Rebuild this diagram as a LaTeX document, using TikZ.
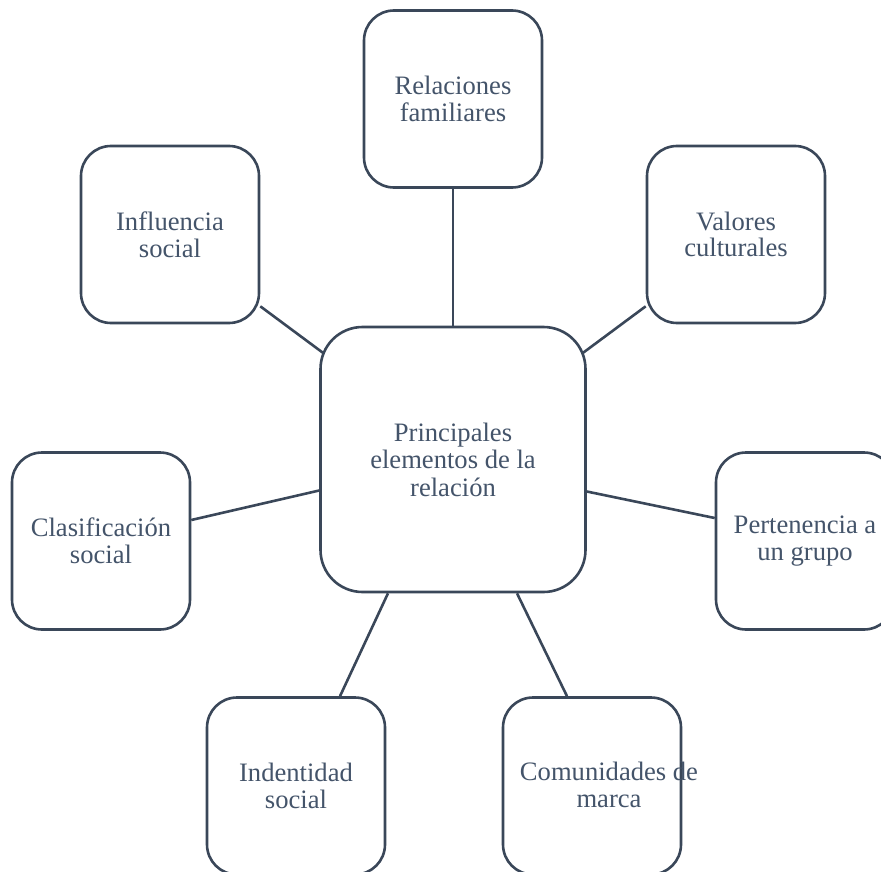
\documentclass[tikz,border=0pt]{standalone}
\usepackage{fontspec}
\setmainfont{Liberation Serif}
\usetikzlibrary{calc,backgrounds}
\definecolor{edgeblue}{HTML}{3A4759}
\definecolor{textblue}{HTML}{44546A}
\begin{document}
\begin{tikzpicture}[x=1pt,y=-1pt,
  box/.style={draw=edgeblue, line width=2.6pt, fill=white, rounded corners=30pt,
    minimum width=178pt, minimum height=177pt, inner sep=0pt, align=center,
    text=textblue, font=\fontsize{26.6}{26.8}\selectfont},
  hub/.style={box, rounded corners=42pt, minimum width=265pt, minimum height=265pt,
    font=\fontsize{26.6}{27.5}\selectfont},
  link/.style={draw=edgeblue, line width=2.6pt}]
  \useasboundingbox (0,0) rectangle (881,872);

  % central topic
  \node[hub] (main) at (453,459.5) {Principales\\elementos de la\\relación};

  % surrounding elements
  \node[box] (rel) at (453,99)    {Relaciones\\familiares};
  \node[box] (inf) at (170,234.5) {Influencia\\social};
  \node[box] (val) at (736,234.5) {Valores\\culturales};
  \node[box] (cla) at (101,541)   {Clasificación\\social};
  \node[box] (per) at (805,541)   {Pertenencia a\\un grupo};
  \node[box] (ide) at (296,786)   {Indentidad\\social};
  % the long first line runs past the right border
  \node[box] (com) at (592,786)   {\makebox[0pt]{\hspace*{34pt}%
    \raisebox{0pt}[\dimexpr\height+6pt\relax][\depth]{%
      \begin{tabular}{@{}c@{}}Comunidades de\\marca\end{tabular}}}};

  % spokes, kept behind the white boxes
  \begin{scope}[on background layer]
    \draw[link] (rel.south) -- (main.north);
    \draw[link] ($(inf.south east)+(0,-18)$) -- ($(main.north west)+(9,31)$);
    \draw[link] ($(val.south west)+(0,-18)$) -- ($(main.north east)+(-9,31)$);
    \draw[link] ($(cla.east)+(0,-21)$) -- ($(main.west)+(0,31)$);
    \draw[link] ($(main.east)+(0,32)$) -- ($(per.west)+(0,-23)$);
    \draw[link] ($(main.south)+(-65,0)$) -- ($(ide.north)+(44,0)$);
    \draw[link] ($(main.south)+(64,0)$) -- ($(com.north)+(-25,0)$);
  \end{scope}
\end{tikzpicture}
\end{document}
